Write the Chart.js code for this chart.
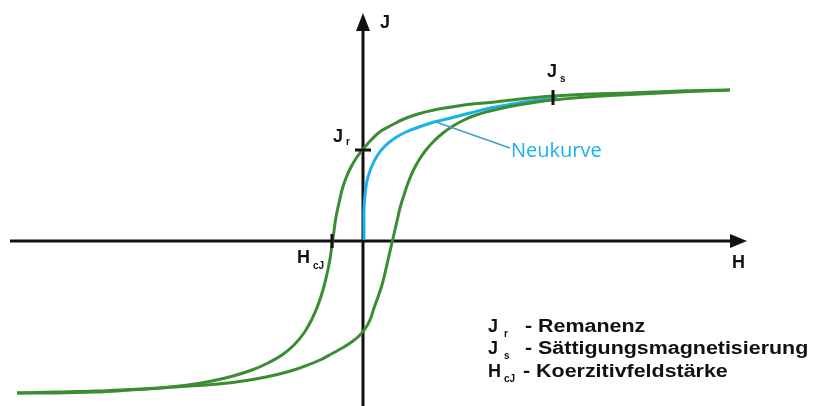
<!DOCTYPE html>
<html>
<head>
<meta charset="utf-8">
<script src="https://cdn.jsdelivr.net/npm/chart.js@4"></script>
<style>
  html, body { margin: 0; padding: 0; background: #fff; }
</style>
</head>
<body>
<canvas id="myChart" width="820" height="406"></canvas>
<script>
// Hystereseschleife (schematisch) - H und J in willkürlichen Einheiten
// absteigender Ast (von +Sättigung nach -Sättigung)
var descH = [36.7, 31.7, 26.7, 22.7, 19.0, 15.7, 13.2, 10.9, 8.9, 7.1, 5.5, 4.1, 2.9, 1.8, 0.9, 0.1, -0.6, -1.2, -1.7, -2.1, -2.4, -2.7, -2.9, -3.1, -3.3, -3.6, -4.0, -4.5, -5.1, -5.9, -6.9, -8.1, -9.5, -11.1, -13.0, -15.1, -17.5, -20.3, -23.3, -26.8, -30.8, -34.6];
var descJ = [15.1, 15.0, 14.8, 14.7, 14.5, 14.2, 13.9, 13.7, 13.4, 13.1, 12.7, 12.2, 11.6, 11.0, 10.2, 9.3, 8.4, 7.4, 6.3, 5.1, 3.8, 2.4, 1.0, -0.4, -1.8, -3.3, -4.9, -6.4, -7.8, -9.2, -10.4, -11.4, -12.2, -12.9, -13.5, -14.0, -14.4, -14.7, -14.9, -15.1, -15.2, -15.2];
// aufsteigender Ast (von -Sättigung nach +Sättigung)
var ascH = [-34.6, -30.8, -26.8, -23.3, -20.3, -17.3, -14.5, -12.0, -9.7, -7.6, -5.8, -4.3, -3.0, -1.9, -1.0, -0.4, 0.2, 0.7, 1.1, 1.5, 1.9, 2.2, 2.5, 2.8, 3.1, 3.4, 3.7, 4.1, 4.5, 5.0, 5.6, 6.3, 7.1, 8.0, 9.0, 10.1, 11.3, 12.7, 14.2, 15.8, 17.4, 19.0, 21.7, 24.7, 28.7, 32.7, 36.7];
var ascJ = [-15.2, -15.1, -15.0, -14.85, -14.7, -14.5, -14.3, -14.0, -13.6, -13.1, -12.5, -11.9, -11.2, -10.6, -10.0, -9.5, -8.8, -7.9, -6.7, -5.6, -4.4, -3.2, -1.9, -0.6, 0.7, 2.0, 3.3, 4.6, 5.8, 7.0, 8.1, 9.1, 10.0, 10.8, 11.5, 12.1, 12.6, 13.0, 13.35, 13.65, 13.9, 14.1, 14.35, 14.55, 14.75, 14.95, 15.1];
// Neukurve
var newH = [0.1, 0.1, 0.1, 0.2, 0.4, 0.8, 1.4, 2.2, 3.2, 4.3, 5.6, 7.1, 8.8, 10.7, 12.7, 14.9, 17.2, 19.4];
var newJ = [0.1, 1.6, 3.1, 4.6, 6.0, 7.3, 8.5, 9.5, 10.3, 10.9, 11.4, 11.9, 12.3, 12.8, 13.3, 13.7, 14.05, 14.3];

// Kennwerte
var Jr = 9.1;
var Js = 14.3;
var HsAt = 19.0;
var HcJ = -3.1;

var legendLines = [
  ['J', 'r', '- Remanenz'],
  ['J', 's', '- Sättigungsmagnetisierung'],
  ['H', 'cJ', '- Koerzitivfeldstärke']
];

function toPoints(hs, js) {
  var pts = [];
  for (var i = 0; i < hs.length; i++) pts.push({ x: hs[i], y: js[i] });
  return pts;
}

var green = '#3b8c33';
var blue = '#19b1ee';
var boldFont = 'bold 18px "Liberation Sans", Arial, sans-serif';
var subFont = 'bold 10px "Liberation Sans", Arial, sans-serif';

function subText(ctx, main, sub, x, y, subDx, subDy) {
  ctx.font = boldFont;
  ctx.fillText(main, x, y);
  var w = ctx.measureText(main).width;
  ctx.font = subFont;
  ctx.fillText(sub, x + w + subDx, y + subDy);
}

var axesPlugin = {
  id: 'axesPlugin',
  beforeDatasetsDraw: function (chart) {
    var ctx = chart.ctx, sx = chart.scales.x, sy = chart.scales.y;
    var x0 = sx.getPixelForValue(0), y0 = sy.getPixelForValue(0);
    ctx.save();
    ctx.strokeStyle = '#111';
    ctx.fillStyle = '#111';
    ctx.lineWidth = 3;
    // H-Achse
    ctx.beginPath();
    ctx.moveTo(10, y0);
    ctx.lineTo(734, y0);
    ctx.stroke();
    ctx.beginPath();
    ctx.moveTo(747, y0);
    ctx.lineTo(730, y0 - 7);
    ctx.lineTo(730, y0 + 7);
    ctx.closePath();
    ctx.fill();
    // J-Achse
    ctx.beginPath();
    ctx.moveTo(x0, 406);
    ctx.lineTo(x0, 27);
    ctx.stroke();
    ctx.beginPath();
    ctx.moveTo(x0, 13);
    ctx.lineTo(x0 - 7, 31);
    ctx.lineTo(x0 + 7, 31);
    ctx.closePath();
    ctx.fill();
    ctx.restore();
  },
  afterDatasetsDraw: function (chart) {
    var ctx = chart.ctx, sx = chart.scales.x, sy = chart.scales.y;
    var x0 = sx.getPixelForValue(0), y0 = sy.getPixelForValue(0);
    var yJr = sy.getPixelForValue(Jr);
    var xHc = sx.getPixelForValue(HcJ);
    var xJs = sx.getPixelForValue(HsAt), yJs = sy.getPixelForValue(Js);
    ctx.save();
    ctx.strokeStyle = '#111';
    ctx.fillStyle = '#111';
    ctx.lineWidth = 3;
    // Markierungen
    ctx.beginPath();
    ctx.moveTo(x0 - 8, yJr); ctx.lineTo(x0 + 8, yJr);
    ctx.moveTo(xHc, y0 - 7); ctx.lineTo(xHc, y0 + 7);
    ctx.moveTo(xJs, yJs - 8); ctx.lineTo(xJs, yJs + 7);
    ctx.stroke();

    // Beschriftungen
    ctx.textBaseline = 'alphabetic';
    ctx.font = boldFont;
    ctx.fillText('J', x0 + 17, 28);
    ctx.fillText('H', 732, y0 + 27);
    subText(ctx, 'J', 'r', x0 - 30, yJr - 8, 3, 3);
    subText(ctx, 'J', 's', xJs - 6, yJs - 21, 3, 5);
    subText(ctx, 'H', 'cJ', xHc - 35, y0 + 22, 3, 6);

    // Neukurve Hinweis
    ctx.strokeStyle = '#3aa3cc';
    ctx.lineWidth = 1.5;
    ctx.beginPath();
    ctx.moveTo(436, 122);
    ctx.lineTo(510, 148);
    ctx.stroke();
    ctx.fillStyle = blue;
    ctx.font = '20px "Open Sans", sans-serif';
    ctx.fillText('Neukurve', 511, 157);

    // Legende (Erklärung breit laufend wie im Original)
    ctx.fillStyle = '#111';
    var baselines = [332, 354, 377];
    for (var i = 0; i < legendLines.length; i++) {
      ctx.font = boldFont;
      ctx.fillText(legendLines[i][0], 488, baselines[i]);
      ctx.font = subFont;
      ctx.fillText(legendLines[i][1], 504, baselines[i] + 5);
      ctx.save();
      ctx.translate(i === 2 ? 523 : 525, baselines[i]);
      ctx.scale(1.19, 1);
      ctx.font = boldFont;
      ctx.fillText(legendLines[i][2], 0, 0);
      ctx.restore();
    }
    ctx.restore();
  }
};

var ctx = document.getElementById('myChart').getContext('2d');
var myChart = new Chart(ctx, {
  type: 'scatter',
  data: {
    datasets: [
      {
        label: 'absteigend',
        data: toPoints(descH, descJ),
        showLine: true,
        borderColor: green,
        borderWidth: 3,
        pointRadius: 0,
        tension: 0.4
      },
      {
        label: 'aufsteigend',
        data: toPoints(ascH, ascJ),
        showLine: true,
        borderColor: green,
        borderWidth: 3,
        pointRadius: 0,
        tension: 0.4
      },
      {
        label: 'Neukurve',
        data: toPoints(newH, newJ),
        showLine: true,
        borderColor: blue,
        borderWidth: 3,
        pointRadius: 0,
        tension: 0.4
      }
    ]
  },
  options: {
    responsive: false,
    animation: false,
    devicePixelRatio: 1,
    layout: { padding: 0 },
    plugins: {
      legend: { display: false },
      tooltip: { enabled: false }
    },
    scales: {
      x: { type: 'linear', min: -36.3, max: 45.7, display: false },
      y: { type: 'linear', min: -16.5, max: 24.1, display: false }
    }
  },
  plugins: [axesPlugin]
});
</script>
</body>
</html>
